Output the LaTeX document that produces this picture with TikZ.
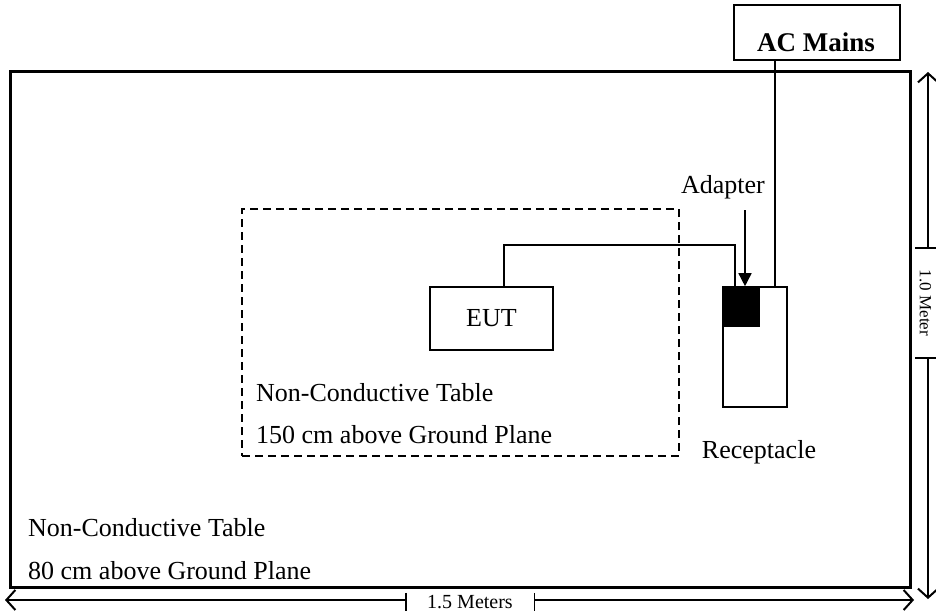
\documentclass[tikz,border=0pt]{standalone}
\usepackage{fontspec}
\setmainfont{Liberation Serif}
\usepackage{tikz}
\usetikzlibrary{positioning}
\usetikzlibrary{arrows.meta,calc}

\begin{document}
\begin{tikzpicture}[x=1pt,y=-1pt,
  every node/.style = {font=\fontsize{26}{28}\selectfont, inner sep=0pt},
  box/.style = {draw, line width=1.6pt, fill=white},
  label/.style = {anchor=west},
  dimarrow/.style = {line width=1.4pt, -{Straight Barb[length=9pt,width=20pt,line width=2pt]}},
  tick/.style = {line width=1.4pt}
  ]
  \useasboundingbox (0,0) rectangle (936,614);
  % tables
  \node[draw, line width=3pt, minimum width=900pt, minimum height=516pt] (table) at (460,329) {};
  \node[draw, dashed, line width=1.8pt, dash pattern=on 8pt off 5pt,
    minimum width=437pt, minimum height=247pt] (small) at (460.5,332.5) {};
  % devices
  \node[box, minimum width=123pt, minimum height=63pt] (eut) at (491.5,318.5) {EUT};
  \node[box, minimum width=64pt, minimum height=120pt] (rec) at (755,347) {};
  \node[draw, fill=black, line width=1pt, minimum width=37pt, minimum height=40pt,
    anchor=north west] (adapter) at (rec.north west) {};
  \node[box, minimum width=166pt, minimum height=55pt] (mains) at (817,32.5) {};
  \node[font=\fontsize{27}{28}\selectfont\bfseries] (mainstext) at (816,42) {AC Mains};
  % labels
  \node (adlabel) at (723,187) {Adapter};
  \node (reclabel) at (759,452) {Receptacle};
  \node[label] (small1) at (256,393) {Non-Conductive Table};
  \node[label] (small2) at (256,435) {150 cm above Ground Plane};
  \node[label] (big1) at (28,528) {Non-Conductive Table};
  \node[label] (big2) at (28,571) {80 cm above Ground Plane};
  % wiring
  \draw[line width=1.5pt] (eut.north -| 504,0) -- (504,245) -- (735,245) -- (735,287);
  \draw[line width=1.5pt] (mains.south -| 775,0) -- (775,287);
  \draw[line width=1.5pt, -{Triangle[length=13pt,width=13pt]}] (745,210) -- (adapter.north -| 745,0);
  % dimensions
  \node[font=\fontsize{20}{22}\selectfont, minimum width=128pt, minimum height=18pt] (hdim) at (470,602) {1.5 Meters};
  \coordinate (hleft) at (5,600);
  \coordinate (hright) at (914,600);
  \draw[tick] (hdim.north west) -- (hdim.south west);
  \draw[tick] (hdim.north east) -- (hdim.south east);
  \draw[dimarrow] (hdim.west |- hleft) -- (hleft);
  \draw[dimarrow] (hdim.east |- hright) -- (hright);
  \node[font=\fontsize{17}{18}\selectfont, rotate=-90, minimum width=110pt, minimum height=21pt] (vdim) at (925.5,303) {1.0 Meter};
  \coordinate (vtop) at (928,72);
  \coordinate (vbottom) at (928,599);
  \draw[tick] (915,248) -- (936,248);
  \draw[tick] (915,358) -- (936,358);
  \draw[dimarrow] (928,248) -- (vtop);
  \draw[dimarrow] (928,358) -- (vbottom);
\end{tikzpicture}
\end{document}
